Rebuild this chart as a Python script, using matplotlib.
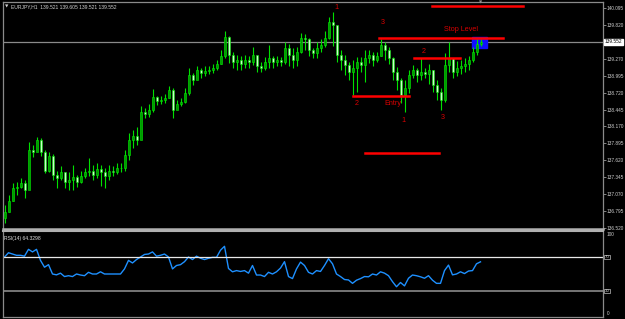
import numpy as np
import matplotlib.pyplot as plt
from matplotlib.patches import Rectangle

# EURJPY H1 bars
first_open = 136.67
close = [136.77, 136.96, 137.16, 137.18, 137.24, 137.13, 137.78, 137.75, 137.95, 137.75,
         137.45, 137.68, 137.37, 137.32, 137.42, 137.26, 137.29, 137.34, 137.27, 137.36,
         137.42, 137.45, 137.37, 137.47, 137.42, 137.36, 137.44, 137.42, 137.49, 137.49,
         137.70, 137.95, 138.01, 137.95, 138.41, 138.37, 138.44, 138.65, 138.59, 138.60,
         138.63, 138.77, 138.44, 138.54, 138.57, 138.72, 139.01, 138.93, 139.09, 139.04,
         139.08, 139.09, 139.13, 139.19, 139.32, 139.63, 139.34, 139.22, 139.26, 139.19,
         139.26, 139.22, 139.34, 139.16, 139.13, 139.22, 139.29, 139.22, 139.26, 139.22,
         139.45, 139.34, 139.26, 139.39, 139.62, 139.59, 139.42, 139.36, 139.45, 139.50,
         139.62, 139.88, 139.83, 139.34, 139.26, 139.18, 139.06, 139.13, 139.22, 139.18,
         139.29, 139.34, 139.26, 139.32, 139.50, 139.42, 139.29, 139.06, 138.93, 138.68,
         138.80, 139.01, 139.09, 139.01, 139.06, 139.03, 139.09, 138.85, 138.73, 138.60,
         139.18, 139.29, 139.06, 139.13, 139.16, 139.19, 139.26, 139.39, 139.52, 139.55]
high = [136.88, 137.05, 137.24, 137.26, 137.32, 137.29, 137.91, 137.86, 138.00, 137.98,
        137.78, 137.75, 137.72, 137.45, 137.52, 137.42, 137.42, 137.54, 137.37, 137.45,
        137.49, 137.65, 137.54, 137.57, 137.54, 137.49, 137.54, 137.52, 137.57, 137.57,
        137.78, 138.06, 138.11, 138.16, 138.50, 138.47, 138.54, 138.78, 138.67, 138.67,
        138.70, 138.83, 138.80, 138.60, 138.63, 138.80, 139.13, 139.04, 139.16, 139.13,
        139.16, 139.16, 139.19, 139.26, 139.42, 139.72, 139.65, 139.39, 139.34, 139.32,
        139.34, 139.32, 139.47, 139.29, 139.22, 139.31, 139.50, 139.32, 139.32, 139.31,
        139.54, 139.52, 139.45, 139.47, 139.70, 139.68, 139.62, 139.45, 139.55, 139.59,
        139.72, 139.95, 140.03, 139.59, 139.42, 139.34, 139.22, 139.26, 139.31, 139.31,
        139.42, 139.42, 139.39, 139.39, 139.60, 139.54, 139.47, 139.31, 139.14, 138.96,
        138.93, 139.09, 139.18, 139.13, 139.29, 139.13, 139.19, 139.09, 138.93, 138.80,
        139.37, 139.55, 139.26, 139.23, 139.26, 139.29, 139.32, 139.47, 139.59, 139.60]
low = [136.60, 136.77, 136.96, 137.05, 137.16, 137.00, 137.42, 137.67, 137.78, 137.68,
       137.41, 137.42, 137.29, 137.16, 137.29, 137.16, 137.13, 137.13, 137.18, 137.24,
       137.32, 137.36, 137.29, 137.32, 137.19, 137.16, 137.29, 137.36, 137.39, 137.42,
       137.45, 137.62, 137.82, 137.86, 138.03, 138.31, 138.32, 138.41, 138.52, 138.54,
       138.55, 138.63, 138.31, 138.47, 138.50, 138.55, 138.68, 138.85, 138.96, 138.96,
       139.00, 139.03, 139.04, 139.09, 139.19, 139.29, 139.21, 139.13, 139.09, 139.09,
       139.13, 139.13, 139.18, 139.06, 139.06, 139.09, 139.13, 139.13, 139.16, 139.16,
       139.19, 139.16, 139.13, 139.16, 139.36, 139.42, 139.32, 139.29, 139.29, 139.39,
       139.47, 139.59, 139.49, 139.22, 139.09, 139.01, 138.93, 138.68, 138.73, 139.06,
       138.90, 139.21, 139.16, 139.22, 139.32, 139.26, 139.19, 138.93, 138.77, 138.55,
       138.41, 138.72, 138.96, 138.90, 138.93, 138.96, 138.86, 138.73, 138.60, 138.44,
       138.57, 139.06, 138.96, 139.00, 139.03, 139.06, 139.09, 139.22, 139.34, 139.49]
rsi = [70, 75, 73.5, 72, 72, 71, 79, 76, 79, 66,
       58, 61, 50, 49, 51, 47, 48, 47, 50, 48.8,
       48, 52, 50, 50, 52.6, 50, 50, 50, 50, 50,
       56, 66, 63, 67, 70, 73, 73.5, 76, 71, 72,
       73.5, 70, 56, 60, 61, 64.5, 70, 67, 71, 68.5,
       67, 68.5, 69.6, 69.6, 78, 82.6, 56.5, 52.6, 54, 53,
       54, 51, 60, 48.8, 48.8, 47, 52, 50, 52.6, 57,
       64.5, 47, 44.6, 56, 64, 60, 52, 50, 54, 53,
       60, 68, 62, 50, 47, 43.5, 43, 39, 42.7, 44.6,
       47, 46.7, 50, 48.8, 52.6, 51, 48, 41, 35, 40,
       36, 45, 48.8, 48, 46.7, 45, 48, 42.7, 39, 39,
       54, 60.5, 49, 50, 52.6, 50.5, 53.5, 54, 62, 64.33]

price_ticks = [140.095, 139.820, 139.270, 138.995, 138.720, 138.445, 138.170,
               137.895, 137.620, 137.345, 137.070, 136.795, 136.520]
bid = 139.552
header = "EURJPY,H1  139.521 139.605 139.521 139.552"

# hand-drawn red levels: (price, start bar, end bar)
level_price = [140.14, 139.61, 139.29, 138.67, 137.73]
level_start = [106.75, 93.5, 102.25, 87, 90]
level_end = [129.5, 124.5, 113.75, 101, 108.5]
# red marks: (text, bar, price)
mark_text = ["1", "3", "Stop Level", "2", "2", "Entry", "1", "3"]
mark_x = [83, 94.5, 114, 104.75, 88, 97, 99.75, 109.5]
mark_y = [140.11, 139.86, 139.75, 139.39, 138.54, 138.55, 138.27, 138.32]

W, H = 625, 319
fig = plt.figure(figsize=(W / 100, H / 100), dpi=100, facecolor='black')
small = ['Liberation Sans', 'DejaVu Sans']

def px_axes(x0, y0, x1, y1):
    return fig.add_axes([x0 / W, 1 - y1 / H, (x1 - x0) / W, (y1 - y0) / H])

ax = px_axes(2.5, 2, 602.5, 228.5)
ax2 = px_axes(2.5, 231, 602.5, 317)

n = len(close)
x = np.arange(n)
o = np.array([first_open] + close[:-1])
c = np.array(close)
up = c >= o

ax.set_facecolor('black')
ax.vlines(x, low, high, color='#00e000', lw=0.8, zorder=3)
ax.bar(x[up], (c - o)[up], bottom=o[up], width=0.5, color='#009a00',
       edgecolor='#00f000', lw=0.4, zorder=4)
ax.bar(x[~up], (o - c)[~up], bottom=c[~up], width=0.5, color='#c8ffc8',
       edgecolor='#00e000', lw=0.4, zorder=4)

ax.axhline(bid, color='#8a8a8a', lw=0.9, zorder=2)
ax.add_patch(Rectangle((116.9, 139.454), 3.6, 0.181, color='#1010ff', zorder=2))
for p, a, b in zip(level_price, level_start, level_end):
    ax.plot([a, b], [p, p], color='#ff0000', lw=1.8, zorder=5)
for t, mx, my in zip(mark_text, mark_x, mark_y):
    ax.text(mx, my, t, color='#d80000', fontsize=5.2, family=small,
            ha='center', va='center', zorder=6)

ax.set_xlim(-0.5, 149.5)
ax.set_ylim(136.504, 140.20)
ax.set_xticks([])
ax.yaxis.tick_right()
ax.set_yticks(price_ticks)
ax.set_yticklabels(['%.3f' % v for v in price_ticks])
ax.tick_params(axis='y', colors='#9a9a9a', length=2.5, width=0.6, pad=0.6,
               labelsize=3.4, labelcolor='#d0d0d0')
for lab in ax.get_yticklabels():
    lab.set_family(small)
ax.text(1.003, bid, '%.3f' % bid, transform=ax.get_yaxis_transform(),
        fontsize=3.4, family=small, color='black', va='center', ha='left',
        bbox=dict(boxstyle='square,pad=0.15', fc='white', ec='white'))
for s in ax.spines.values():
    s.set_color('#8a8a8a')
    s.set_linewidth(0.9)
ax.spines['bottom'].set_color('#b0b0b0')
ax.spines['bottom'].set_linewidth(1.8)

ax2.set_facecolor('black')
ax2.plot(x, rsi, color='#1e90ff', lw=1.0)
ax2.axhline(70, color='#e8e8e8', lw=0.9)
ax2.axhline(30, color='#8a8a8a', lw=1.2)
ax2.set_xlim(-0.5, 149.5)
ax2.set_ylim(-0.6, 100.6)
ax2.set_xticks([])
ax2.set_yticks([])
for s in ax2.spines.values():
    s.set_color('#8a8a8a')
    s.set_linewidth(0.9)
ax2.spines['top'].set_color('#b0b0b0')
ax2.spines['top'].set_linewidth(1.5)
yt = ax2.get_yaxis_transform()
ax2.text(1.006, 96, '100', transform=yt, fontsize=3.4, family=small,
         color='#d0d0d0', va='center')
ax2.text(1.008, 3, '0', transform=yt, fontsize=3.4, family=small,
         color='#d0d0d0', va='center')
for lv in (70, 30):
    ax2.text(1.004, lv, str(lv), transform=yt, fontsize=3.2, family=small,
             color='#d0d0d0', va='center',
             bbox=dict(boxstyle='square,pad=0.1', fc='black', ec='#c0c0c0', lw=0.5))
ax2.text(0.003, 0.91, 'RSI(14) 64.3298', transform=ax2.transAxes, fontsize=3.6,
         family=small, color='#e0e0e0', va='center')

fig.text(5 / W, 1 - 6.5 / H, '\u25bc', fontsize=3.2, color='#d0d0d0', va='center')
fig.text(11 / W, 1 - 6.5 / H, header, fontsize=3.6, family=small,
         color='#d0d0d0', va='center')
fig.text(481 / W, 1 - 2.5 / H, '\u25bc', fontsize=3, color='#909090',
         va='center', ha='center')

fig.savefig('out.png', dpi=100, facecolor='black')
